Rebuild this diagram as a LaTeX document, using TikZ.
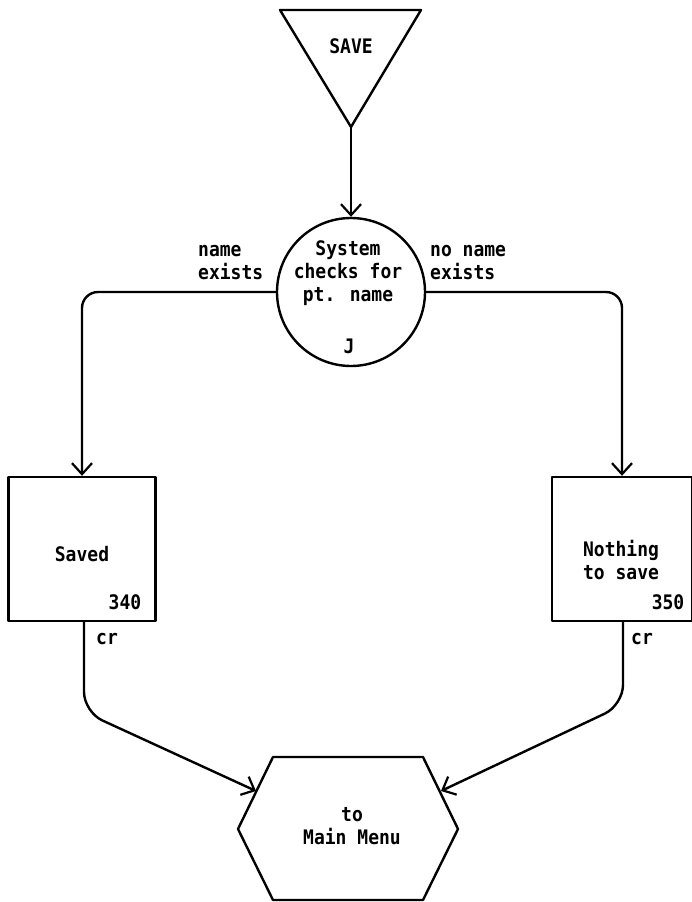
\documentclass[tikz,border=0pt]{standalone}
\usepackage{fontspec}
\newfontfamily\dotfont[FakeStretch=0.9]{DejaVu Sans Mono}
\usetikzlibrary{arrows.meta}
\tikzset{
  line/.style={line width=2.4pt, line join=round, line cap=round},
  arr/.style={line, -{Straight Barb[length=11pt,width=20pt,line width=2.2pt]}},
  lbl/.style={font=\dotfont\bfseries\fontsize{20}{23}\selectfont, inner sep=0pt},
  boxnode/.style={line, draw, rectangle, inner sep=0pt},
}
\begin{document}
\begin{tikzpicture}[x=1pt,y=-1pt]
\useasboundingbox (0,0) rectangle (692,902);
% SAVE triangle
\draw[line] (280,10) -- (421,10) -- (351,127) -- cycle;
\coordinate (apex) at (351,127);
\node[lbl] (save) at (351,46) {SAVE};
% decision circle
\node[line, draw, circle, minimum size=148pt, inner sep=0pt] (circ) at (351,292) {};
\node[lbl, align=center] (ctext) at (348,273) {System\\checks for\\pt. name};
\node[lbl] (cj) at (349,346) {J};
% boxes
\node[boxnode, minimum width=147pt, minimum height=144pt] (lbox) at (82,549) {};
\node[boxnode, minimum width=140pt, minimum height=144pt] (rbox) at (622,549) {};
\node[lbl] (saved) at (82,554) {Saved};
\node[lbl, align=center] (nothing) at (621,560) {Nothing\\to save};
\node[lbl] (n340) at (125,602) {340};
\node[lbl] (n350) at (668,602) {350};
\node[lbl] (crl) at (107,639) {cr};
\node[lbl] (crr) at (642,639) {cr};
% hexagon
\draw[line] (273,757) -- (423,757) -- (458,829) -- (423,900) -- (273,900) -- (238,829) -- cycle;
\coordinate (hl) at (256,791);
\coordinate (hr) at (441,791);
\node[lbl, align=center] (hex) at (352,826) {to\\Main Menu};
% branch labels
\node[lbl, align=left, anchor=north west] (nameex) at (198,245) {name\\exists};
\node[lbl, align=left, anchor=north west] (nonameex) at (430,245) {no name\\exists};
% connectors
\draw[arr] (apex) -- (circ.north);
\draw[arr, rounded corners=16pt] (circ.west) -| (lbox.north);
\draw[arr, rounded corners=16pt] (circ.east) -| (rbox.north);
\coordinate (lc) at (84,712);
\coordinate (rc) at (623,705);
\draw[arr, rounded corners=20pt] (lbox.south -| lc) -- (lc) -- (hl);
\draw[arr, rounded corners=20pt] (rbox.south -| rc) -- (rc) -- (hr);
\end{tikzpicture}
\end{document}
